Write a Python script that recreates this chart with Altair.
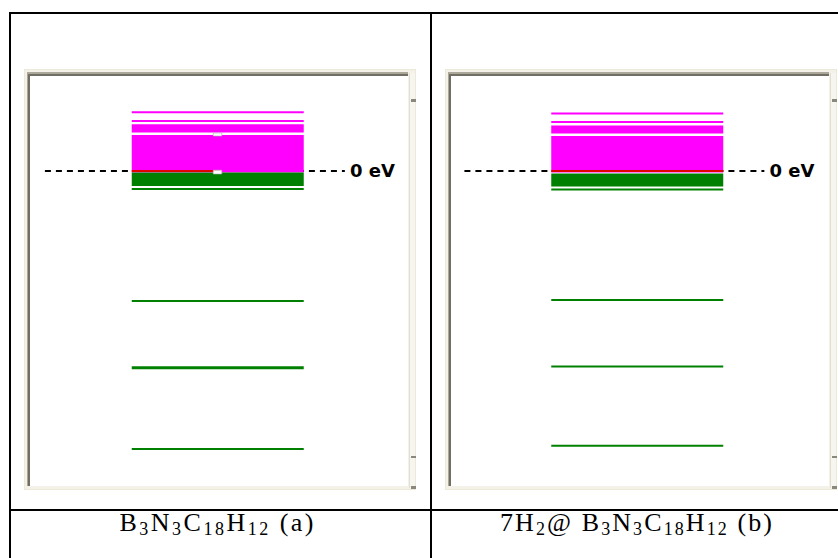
import altair as alt
import pandas as pd

# ---------------- data (energies in eV, Fermi level = 0) ----------------
panels = [0, 1]
# caption pieces: (text, is_subscript)
caption_a = [("B", 0), ("3", 1), ("N", 0), ("3", 1), ("C", 0), ("18", 1), ("H", 0), ("12", 1), (" (a)", 0)]
caption_b = [("7H", 0), ("2", 1), ("@ B", 0), ("3", 1), ("N", 0), ("3", 1), ("C", 0), ("18", 1),
             ("H", 0), ("12", 1), (" (b)", 0)]
caption_width = [194, 272]  # overall width of each caption line (px)

# discrete levels: panel, energy, kind, degeneracy
lvl_panel = [0, 0, 0, 0, 0, 0, 1, 1, 1, 1, 1, 1]
lvl_energy = [1.47, 1.25, -0.45, -3.25, -4.92, -6.95,
              1.44, 1.225, -0.46, -3.225, -4.89, -6.87]
lvl_kind = ["unocc", "unocc", "occ", "occ", "occ", "occ",
            "unocc", "unocc", "occ", "occ", "occ", "occ"]
lvl_degen = [1, 1, 1, 1, 2, 1, 1, 1, 1, 1, 1, 1]

# dense bands of levels: panel, low, high, kind
band_panel = [0, 0, 0, 1, 1, 1]
band_lo = [0.96, -0.04, -0.375, 0.94, -0.04, -0.39]
band_hi = [1.17, 0.90, -0.04, 1.14, 0.875, -0.06]
band_kind = ["unocc", "unocc", "occ", "unocc", "unocc", "occ"]

# HOMO/LUMO boundary (red), fraction of the level width that is drawn
fermi_fill = [0.5, 1.0]

# small gaps (white notches) in the degenerate block of panel (a)
gap_panel = [0, 0]
gap_lo = [0.875, -0.075]
gap_hi = [0.95, 0.02]

HALF = 0.205  # half width of the level bars, in panel units
PX = 419.5    # pixels per panel unit

lv = pd.DataFrame({"panel": lvl_panel, "e": lvl_energy, "kind": lvl_kind, "deg": lvl_degen})
lv["x0"] = lv["panel"] + 0.5 - HALF
lv["x1"] = lv["panel"] + 0.5 + HALF

bd = pd.DataFrame({"panel": band_panel, "lo": band_lo, "hi": band_hi, "kind": band_kind})
bd["x0"] = bd["panel"] + 0.5 - HALF
bd["x1"] = bd["panel"] + 0.5 + HALF

fm = pd.DataFrame({"panel": panels, "fill": fermi_fill, "e": [0.0, 0.0]})
fm["x0"] = fm["panel"] + 0.5 - HALF
fm["x1"] = fm["x0"] + 2 * HALF * fm["fill"]

gp = pd.DataFrame({"panel": gap_panel, "lo": gap_lo, "hi": gap_hi})
gp["x0"] = gp["panel"] + 0.5 - 4.5 / PX
gp["x1"] = gp["panel"] + 0.5 + 4.0 / PX

zero = pd.DataFrame({"panel": panels, "e": [0.0, 0.0], "label": ["0 eV", "0 eV"]})
zero["x0"] = zero["panel"] + 0.088
zero["x1"] = zero["panel"] + 0.803
zero["xt"] = zero["panel"] + 0.815

# caption laid out character by character from approximate Times glyph widths
S, T = 26, 18
GW = {"B": .667, "N": .722, "C": .667, "H": .722, " ": .25, "(": .333, ")": .333,
      "a": .444, "b": .5, "@": .921, "7": .5, "1": .5, "2": .5, "3": .5, "8": .5}
rows = []
for p, (pieces, target) in enumerate(zip([caption_a, caption_b], caption_width)):
    chars = [(c, sub) for t, sub in pieces for c in t]
    widths = [GW[c] * (T if sub else S) for c, sub in chars]
    extra = (target - sum(widths)) / (len(chars) - 1)
    x = -target / 2
    for (c, sub), w in zip(chars, widths):
        if c != " ":
            rows.append({"panel": p, "text": c, "sub": sub, "x": p + 0.497 + (x + w / 2) / PX})
        x += w + extra
cp = pd.DataFrame(rows)

xs = alt.Scale(domain=[0, 2], range=[8, 847])
ys = alt.Scale(domain=[-9.675, 4.275])
band_color = alt.Scale(domain=["unocc", "occ"], range=["#FF00FF", "#008000"])
line_color = alt.Scale(domain=["unocc", "occ"], range=["#FF00FF", "#1E8E1E"])

W, H = 838, 558
one = pd.DataFrame({"k": [0]})


def box(x1, x2, y1, y2, color):
    return alt.Chart(one).mark_rect(color=color).encode(
        x=alt.value(x1), x2=alt.value(x2), y=alt.value(y1), y2=alt.value(y2))


def frame(L, R):
    T_, B = 69, 490
    return [
        box(L, R, T_, B, "#ECE9D8"),
        box(L + 1, R - 1, T_ + 1, B - 1, "#F3F1E8"),
        box(L + 3, R - 8, T_ + 3, B - 4, "#ACA899"),
        box(L + 4, R - 8, T_ + 5, B - 4, "#716F64"),
        box(L + 6, R - 8, T_ + 7, B - 4, "white"),
        box(R - 7, R - 1, T_ + 4, B - 2, "#F6F5EF"),
        box(R - 7, R - 6, T_ + 4, B - 2, "#E2DFD2"),
        box(R - 5, R, 99, 102, "#8A877C"),
        box(R - 5, R, 456, 458, "#8A877C"),
        box(R - 5, R, 486, 489, "#8A877C"),
    ]


decor = []
decor += frame(24, 416)
decor += frame(445, 837)
decor += [
    box(9, W, 12, 14, "black"),
    box(9, 11, 12, H, "black"),
    box(430, 432, 12, H, "black"),
    box(9, W, 509, 511, "black"),
]

zero_line = alt.Chart(zero).mark_rule(color="black", strokeWidth=2, strokeDash=[6, 5]).encode(
    x=alt.X("x0:Q", scale=xs, axis=None), x2="x1:Q",
    y=alt.Y("e:Q", scale=ys, axis=None))

bands = alt.Chart(bd).mark_rect().encode(
    x=alt.X("x0:Q", scale=xs, axis=None), x2="x1:Q",
    y=alt.Y("lo:Q", scale=ys, axis=None), y2="hi:Q",
    color=alt.Color("kind:N", scale=band_color, legend=None))

levels = alt.Chart(lv).mark_rule().encode(
    x=alt.X("x0:Q", scale=xs, axis=None), x2="x1:Q",
    y=alt.Y("e:Q", scale=ys, axis=None),
    color=alt.Color("kind:N", scale=line_color, legend=None),
    strokeWidth=alt.StrokeWidth("deg:Q", scale=alt.Scale(domain=[1, 2], range=[2, 3]), legend=None))

fermi = alt.Chart(fm).mark_rule(color="#E00000", strokeWidth=2).encode(
    x=alt.X("x0:Q", scale=xs, axis=None), x2="x1:Q",
    y=alt.Y("e:Q", scale=ys, axis=None))

gaps = alt.Chart(gp).mark_rect(color="white", stroke="#B0B0B0", strokeWidth=0.6).encode(
    x=alt.X("x0:Q", scale=xs, axis=None), x2="x1:Q",
    y=alt.Y("lo:Q", scale=ys, axis=None), y2="hi:Q")

zero_lab = alt.Chart(zero).mark_text(
    align="left", baseline="middle", font="DejaVu Sans", fontWeight="bold",
    fontSize=18, color="black", dy=1).encode(
    x=alt.X("xt:Q", scale=xs, axis=None), y=alt.Y("e:Q", scale=ys, axis=None), text="label:N")

cap_main = alt.Chart(cp).transform_filter("datum.sub == 0").mark_text(
    align="center", baseline="alphabetic", font="Liberation Serif", fontSize=S,
    color="black").encode(
    x=alt.X("x:Q", scale=xs, axis=None), y=alt.value(531), text="text:N")

cap_sub = alt.Chart(cp).transform_filter("datum.sub == 1").mark_text(
    align="center", baseline="alphabetic", font="Liberation Serif", fontSize=T,
    color="black").encode(
    x=alt.X("x:Q", scale=xs, axis=None), y=alt.value(535), text="text:N")

chart = alt.layer(*decor, zero_line, bands, levels, fermi, gaps, zero_lab, cap_main, cap_sub).properties(
    width=W, height=H, padding=0, autosize=alt.AutoSizeParams(type="none"),
    background="white"
).configure_view(stroke=None)

chart.save("out.html", embed_options={"renderer": "svg", "actions": False})
